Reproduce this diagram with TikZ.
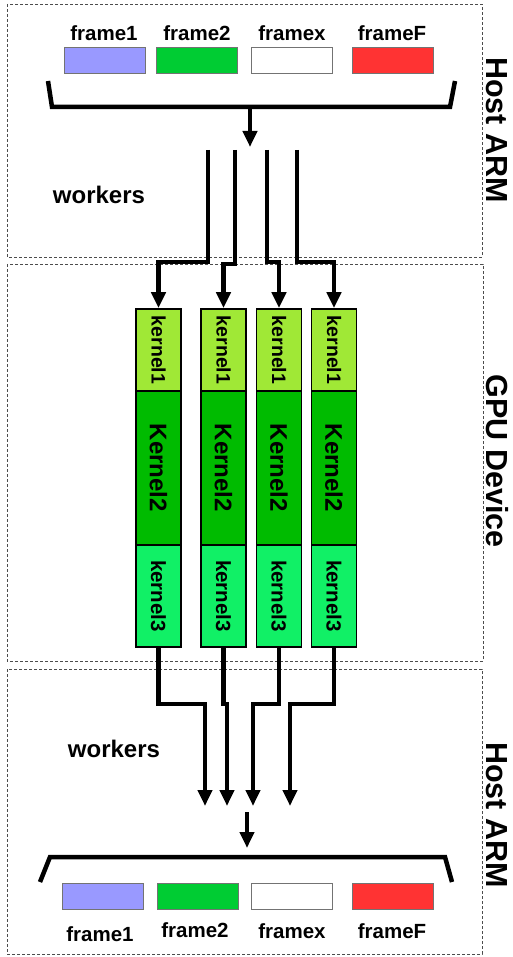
\documentclass[tikz,border=0pt]{standalone}
\usepackage{fontspec}
\setmainfont{Liberation Sans}
\usetikzlibrary{arrows.meta}
\definecolor{fA}{HTML}{9999FF}
\definecolor{fB}{HTML}{00CC33}
\definecolor{fF}{HTML}{FF3333}
\definecolor{kA}{HTML}{A0E836}
\definecolor{kB}{HTML}{00BB00}
\definecolor{kC}{HTML}{11F066}
\tikzset{
  region/.style={draw=black!70,densely dashed,line width=0.7pt},
  framebox/.style={draw=black!55,line width=0.8pt,minimum width=81pt,minimum height=26pt,inner sep=0pt},
  flabel/.style={font=\fontsize{20.5}{22}\selectfont\bfseries,inner sep=0pt},
  kbox/.style={draw=black,line width=1.6pt,minimum width=45pt,inner sep=0pt},
  conn/.style={line width=4.2pt,-{Triangle[length=16pt,width=14pt]}},
  brk/.style={line width=4.5pt,line join=miter},
  side/.style={font=\fontsize{30.5}{32}\selectfont\bfseries,rotate=-90,inner sep=0pt},
  wlabel/.style={font=\fontsize{24}{26}\selectfont\bfseries,inner sep=0pt}
}
\begin{document}
\begin{tikzpicture}[x=1pt,y=-1pt]
\useasboundingbox (0,0) rectangle (513,957);
% regions
\draw[region] (7,4) rectangle (482,257);
\draw[region] (7,264) rectangle (483,661);
\draw[region] (7,669) rectangle (482,954);
\node[side] (hostA) at (497,130) {Host ARM};
\node[side] (gpu) at (497,461) {GPU Device};
\node[side] (hostB) at (497,815) {Host ARM};
% top frames
\node[framebox,fill=fA] (tf1) at (105,60) {};
\node[framebox,fill=fB] (tf2) at (197,60) {};
\node[framebox,fill=white] (tfx) at (292,60) {};
\node[framebox,fill=fF] (tfF) at (392.5,60) {};
\node[flabel] (tl1) at (104,33) {frame1};
\node[flabel] (tl2) at (197,33) {frame2};
\node[flabel] (tlx) at (292,33) {framex};
\node[flabel] (tlF) at (392,33) {frameF};
% top bracket
\draw[brk] (48,81) -- (52,107) -- (450,107) -- (455,81);
\coordinate (tbm) at (250,107);
\coordinate (tbt) at (250,147);
\draw[conn] (tbm) -- (tbt);
\node[wlabel] (wtop) at (99,195) {workers};
% kernels
\foreach \n/\cx in {a/158.5,b/223.5,c/279,d/334}{
  \node[kbox,fill=kA,minimum height=82pt] (k1\n) at (\cx,350) {\rotatebox{-90}{\fontsize{19.5}{21}\selectfont\bfseries kernel1}};
  \node[kbox,fill=kB,minimum height=154pt] (k2\n) at (\cx,468) {\rotatebox{-90}{\fontsize{24}{26}\selectfont\bfseries Kernel2}};
  \node[kbox,fill=kC,minimum height=102pt] (k3\n) at (\cx,596) {\rotatebox{-90}{\fontsize{20.5}{22}\selectfont\bfseries kernel3}};
}
% top worker lines
\coordinate (w1) at (208,150);
\coordinate (w2) at (235,150);
\coordinate (w3) at (267,150);
\coordinate (w4) at (297,150);
\draw[conn] (w1) -- (208,262) -| (k1a.north);
\draw[conn] (w2) -- (235,264) -| (k1b.north);
\draw[conn] (w3) -- (267,262) -| (k1c.north);
\draw[conn] (w4) -- (297,262) -| (k1d.north);
% bottom worker lines
\coordinate (o1) at (205,806);
\coordinate (o2) at (227,806);
\coordinate (o3) at (253,806);
\coordinate (o4) at (290,806);
\draw[conn] (k3a.south) -- ++(0,56) -| (o1);
\draw[conn] (k3b.south) -- ++(0,56) -| (o2);
\draw[conn] (k3c.south) -- ++(0,56) -| (o3);
\draw[conn] (k3d.south) -- ++(0,56) -| (o4);
\node[wlabel] (wbot) at (114,749) {workers};
% bottom merge arrow and bracket
\coordinate (bas) at (247,812);
\coordinate (bat) at (247,848);
\draw[conn] (bas) -- (bat);
\draw[brk] (40,882) -- (50,857) -- (445,857) -- (452,882);
\node[framebox,fill=fA] (bf1) at (102.5,896.5) {};
\node[framebox,fill=fB] (bf2) at (197.5,896.5) {};
\node[framebox,fill=white] (bfx) at (292,896.5) {};
\node[framebox,fill=fF] (bfF) at (392.5,896.5) {};
\node[flabel] (bl1) at (100,934) {frame1};
\node[flabel] (bl2) at (195,930) {frame2};
\node[flabel] (blx) at (292,931) {framex};
\node[flabel] (blF) at (392,931) {frameF};
\end{tikzpicture}
\end{document}
